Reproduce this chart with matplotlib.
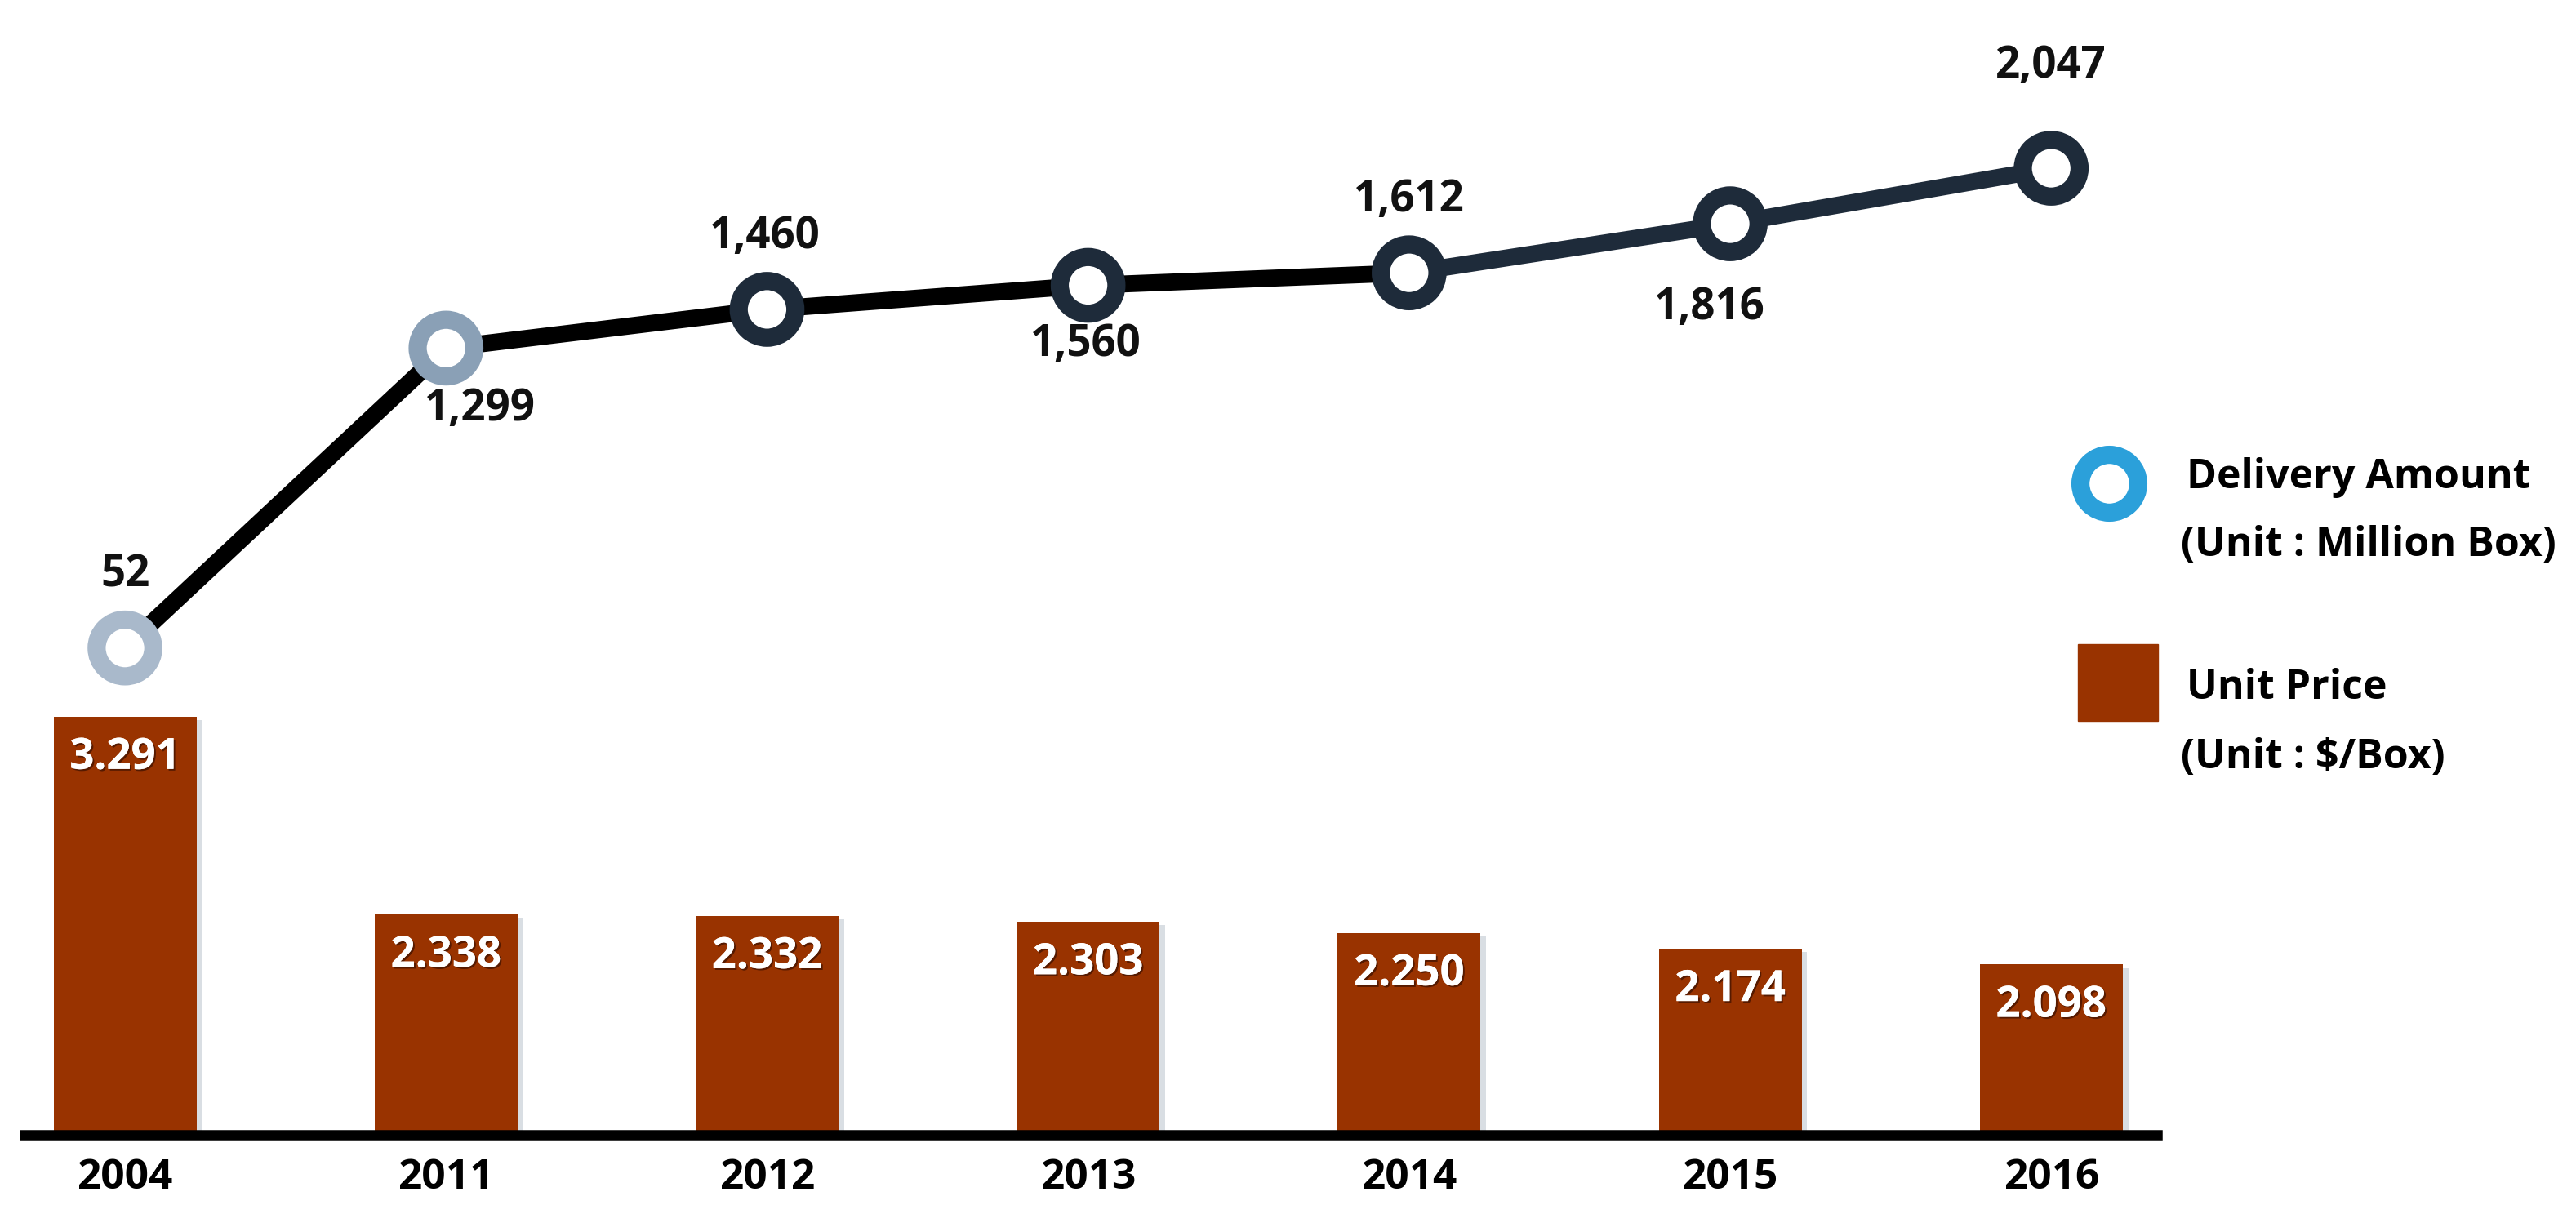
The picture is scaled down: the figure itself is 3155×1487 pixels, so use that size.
import matplotlib
matplotlib.use('Agg')
import matplotlib.pyplot as plt
from matplotlib import patheffects
from matplotlib.lines import Line2D
from matplotlib.patches import Rectangle
import numpy as np

# data
years      = ['2004', '2011', '2012', '2013', '2014', '2015', '2016']
delivery   = [52, 1299, 1460, 1560, 1612, 1816, 2047]      # million box
unit_price = [3.291, 2.338, 2.332, 2.303, 2.250, 2.174, 2.098]  # $/box

# styling
_bar_color  = '#993300'
_dark       = '#1e2b3a'
_ring_cols  = ['#a9b9cb', '#8aa0b6', _dark, _dark, _dark, _dark, _dark]
_label_pos  = [(0, 64), (30, -54), (-2, 64), (-2, -52), (0, 64), (-18, -74), (0, 90)]

plt.rcParams['font.family'] = ['Open Sans', 'DejaVu Sans']
plt.rcParams['font.weight'] = 'bold'

W, H = 3155, 1487
fig = plt.figure(figsize=(W / 100, H / 100), dpi=100)

x = np.arange(len(years))
xlim = (-0.313, 6.33)
left, width = 30 / W, (2642 - 30) / W

### bars - unit price
ax_b = fig.add_axes([left, 1 - 1390 / H, width, 540 / H])
bars = ax_b.bar(x, unit_price, width=0.445, color=_bar_color, zorder=1)
for b in bars:
    b.set_path_effects([patheffects.withSimplePatchShadow(offset=(5, -3), shadow_rgbFace='#6b7f93', alpha=0.25),
                        patheffects.Normal()])
ax_b.set_xlim(*xlim)
ax_b.set_ylim(1.279, 3.4)
for s in ['top', 'right', 'left']:
    ax_b.spines[s].set_visible(False)
ax_b.spines['bottom'].set_linewidth(9)
ax_b.spines['bottom'].set_color('black')
ax_b.spines['bottom'].set_zorder(3)
ax_b.set_yticks([])
ax_b.set_xticks(x, years)
ax_b.tick_params(axis='x', length=0, pad=20, labelsize=37)

for xi, v in zip(x, unit_price):
    ax_b.annotate('%.3f' % v, (xi, v), xytext=(0, -36), textcoords='offset points',
                  ha='center', va='center', color='white', fontsize=38, fontweight='bold',
                  path_effects=[patheffects.withSimplePatchShadow(offset=(1.5, -1.5), shadow_rgbFace='#3a1000', alpha=0.7),
                                patheffects.Normal()])

### line - delivery amount
ax_l = fig.add_axes([left, 1 - 809 / H, width, 648 / H])
ax_l.set_xlim(*xlim)
ax_l.set_ylim(0, 2200)
ax_l.axis('off')

ax_l.plot(x[:5], delivery[:5], color='black', lw=15, solid_capstyle='butt', zorder=2, clip_on=False)
ax_l.plot(x[4:], delivery[4:], color=_dark, lw=15, solid_capstyle='butt', zorder=2, clip_on=False)
ax_l.scatter(x, delivery, s=50 ** 2, facecolors='white', edgecolors=_ring_cols,
             linewidths=16, zorder=3, clip_on=False)

for xi, v, off in zip(x, delivery, _label_pos):
    ax_l.annotate('{:,}'.format(v), (xi, v), xytext=off, textcoords='offset points',
                  ha='center', va='center', fontsize=38, color='#111111')

### legend
fig.add_artist(Line2D([2583 / W], [1 - 592 / H], marker='o', ms=51, mew=16,
                      mfc='white', mec='#2ba0da', transform=fig.transFigure))
fig.add_artist(Rectangle((2545 / W, 1 - 883 / H), 98 / W, 94 / H,
                         transform=fig.transFigure, color=_bar_color))
fig.text(2678 / W, 1 - 585 / H, 'Delivery Amount', va='center', fontsize=36)
fig.text(2671 / W, 1 - 668 / H, '(Unit : Million Box)', va='center', fontsize=36)
fig.text(2678 / W, 1 - 843 / H, 'Unit Price', va='center', fontsize=36)
fig.text(2671 / W, 1 - 928 / H, '(Unit : $/Box)', va='center', fontsize=36)

fig.savefig('out.png', dpi=100)
